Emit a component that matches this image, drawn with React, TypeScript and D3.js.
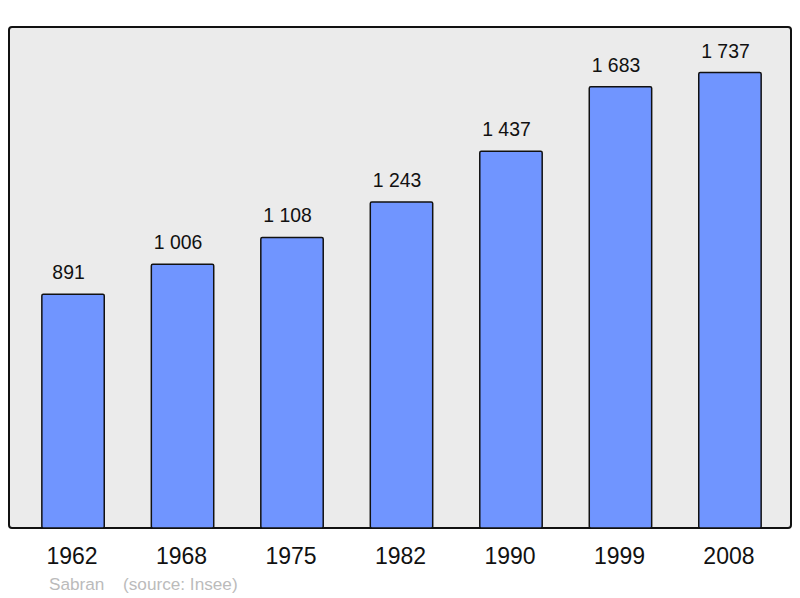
import React from "react";
import * as d3 from "d3";

const years = ["1962", "1968", "1975", "1982", "1990", "1999", "2008"];
const population = [891, 1006, 1108, 1243, 1437, 1683, 1737];
const valueLabels = ["891", "1 006", "1 108", "1 243", "1 437", "1 683", "1 737"];
const commune = "Sabran";
const source = "(source: Insee)";

export default function App() {
  const W = 800, H = 598;
  const left = 9, right = 791, top = 27, bottom = 528;
  const x = d3.scaleBand<string>().domain(years).range([9, 794]).paddingInner(0.43).paddingOuter(0.3);
  const y = d3.scaleLinear().domain([0, 1737 * 1.1]).range([bottom, top]);
  const font = "'Liberation Sans', Arial, sans-serif";
  return (
    <svg width={W} height={H} style={{ position: "absolute", left: 0, top: 0 }}>
      <rect x={left} y={top} width={right - left} height={bottom - top} rx={3} ry={3} fill="#ebebeb" stroke="#111" strokeWidth={2} />
      {years.map((yr, i) => (
        <g key={yr}>
          <rect x={x(yr)} y={y(population[i])} width={x.bandwidth()} height={bottom - y(population[i])} fill="#7095ff" stroke="#111" strokeWidth={1.5} rx={1.5} />
          <text x={(x(yr) as number) + x.bandwidth() / 2 - 4.5} y={y(population[i]) - 15} textAnchor="middle" fontFamily={font} fontSize={19.4} fill="#111">{valueLabels[i]}</text>
          <text x={(x(yr) as number) + x.bandwidth() / 2 - 1} y={564} textAnchor="middle" fontFamily={font} fontSize={23} fill="#111">{yr}</text>
        </g>
      ))}
      <text x={49} y={590} fontFamily={font} fontSize={17.2} fill="#bbbbbb">{commune}</text>
      <text x={123} y={590} fontFamily={font} fontSize={17.2} fill="#bbbbbb">{source}</text>
    </svg>
  );
}
